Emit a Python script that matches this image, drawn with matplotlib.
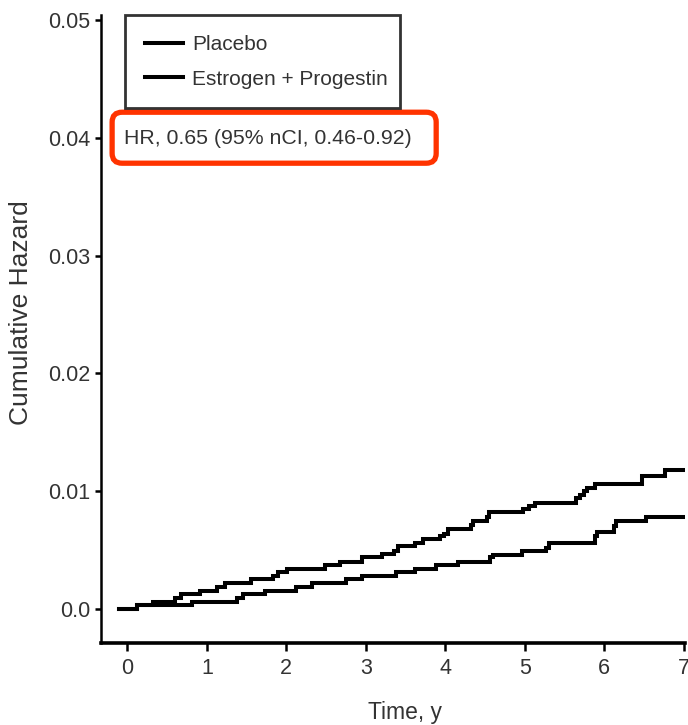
import matplotlib
matplotlib.use('Agg')
import matplotlib.pyplot as plt
from matplotlib.patches import FancyBboxPatch

# step curves (time in years, cumulative hazard)
placebo_t = [-0.11, 0.12, 0.32, 0.60, 0.67, 0.92, 1.13, 1.23, 1.55, 1.83, 1.89, 2.01, 2.49, 2.68,
             2.95, 3.20, 3.35, 3.41, 3.62, 3.72, 3.93, 3.99, 4.04, 4.33, 4.35, 4.52, 4.55, 4.98,
             5.05, 5.13, 5.65, 5.70, 5.74, 5.78, 5.89, 6.47, 6.76, 7.0]
placebo_v = [0, 0.0003, 0.0006, 0.0009, 0.00125, 0.00155, 0.0019, 0.0022, 0.0025, 0.0028, 0.0031,
             0.0034, 0.0037, 0.0040, 0.0044, 0.0047, 0.0049, 0.0053, 0.0056, 0.0059, 0.0062, 0.0064,
             0.0068, 0.0071, 0.0075, 0.0078, 0.0082, 0.0085, 0.0087, 0.0090, 0.0094, 0.0097, 0.0100,
             0.0103, 0.0106, 0.0113, 0.0118, 0.0118]

ep_t = [-0.11, 0.12, 0.81, 1.38, 1.46, 1.73, 2.12, 2.32, 2.75, 2.95, 3.38, 3.62, 3.88, 4.16, 4.56,
        4.60, 4.96, 5.27, 5.30, 5.88, 5.91, 6.12, 6.15, 6.53, 7.0]
ep_v = [0, 0.0003, 0.0006, 0.0009, 0.00125, 0.00155, 0.0019, 0.0022, 0.0025, 0.0028, 0.0031, 0.0034,
        0.0037, 0.0040, 0.0044, 0.0046, 0.0049, 0.0052, 0.0056, 0.0062, 0.0065, 0.0070, 0.0075,
        0.0078, 0.0078]

labels = ['Placebo', 'Estrogen + Progestin']
xticks = [0, 1, 2, 3, 4, 5, 6, 7]
yticks = [0, 0.01, 0.02, 0.03, 0.04, 0.05]
ytick_labels = ['0.0', '0.01', '0.02', '0.03', '0.04', '0.05']
hr_text = 'HR, 0.65 (95% nCI, 0.46-0.92)'

txt = '#333333'
plt.rcParams['font.family'] = ['Liberation Sans', 'DejaVu Sans']

fig = plt.figure(figsize=(6.88, 7.25), dpi=100)
ax = fig.add_axes([0.147, 0.113, 0.849, 0.866])

ax.plot(placebo_t, placebo_v, drawstyle='steps-post', color='black', lw=2.9,
        solid_joinstyle='miter', label=labels[0])
ax.plot(ep_t, ep_v, drawstyle='steps-post', color='black', lw=2.9,
        solid_joinstyle='miter', label=labels[1])

ax.set_xlim(-0.33, 7.02)
ax.set_ylim(-0.0029, 0.0504)
ax.set_xticks(xticks)
ax.set_xticklabels([str(x) for x in xticks])
ax.set_yticks(yticks)
ax.set_yticklabels(ytick_labels)

for s in ['top', 'right']:
    ax.spines[s].set_visible(False)
ax.spines['left'].set_linewidth(1.8)
ax.spines['bottom'].set_linewidth(2.6)
ax.tick_params(axis='both', direction='out', width=1.8, colors='black',
               labelcolor=txt, labelsize=15.5)
ax.tick_params(axis='y', length=4.5, pad=3)
ax.tick_params(axis='x', length=6, pad=5)

ax.set_xlabel('Time, y', fontsize=16.5, color=txt)
ax.xaxis.set_label_coords(0.52, -0.092)
ax.set_ylabel('Cumulative Hazard', fontsize=19, color=txt)
ax.yaxis.set_label_coords(-0.117, 0.527)

leg = ax.legend(loc='upper left', bbox_to_anchor=(0.041, 0.853, 0.471, 0.147), mode='expand',
                borderaxespad=0, fontsize=15, frameon=True, fancybox=False,
                handlelength=1.85, handletextpad=0.4, borderpad=0.95, labelspacing=0.75)
leg.get_frame().set_edgecolor('black')
leg.get_frame().set_linewidth(2)
for t in leg.get_texts():
    t.set_color(txt)

# red rounded box around the hazard ratio
box = FancyBboxPatch((0.0188, 0.7643), 0.5548, 0.0812,
                     boxstyle='round,pad=0,rounding_size=0.017', mutation_aspect=0.93,
                     transform=ax.transAxes, fc='white', ec='#ff3300', lw=3.8, clip_on=False)
ax.add_patch(box)
ax.text(0.039, 0.8035, hr_text, transform=ax.transAxes, fontsize=15.3, color=txt,
        ha='left', va='center')

fig.savefig('out.png', dpi=100)
